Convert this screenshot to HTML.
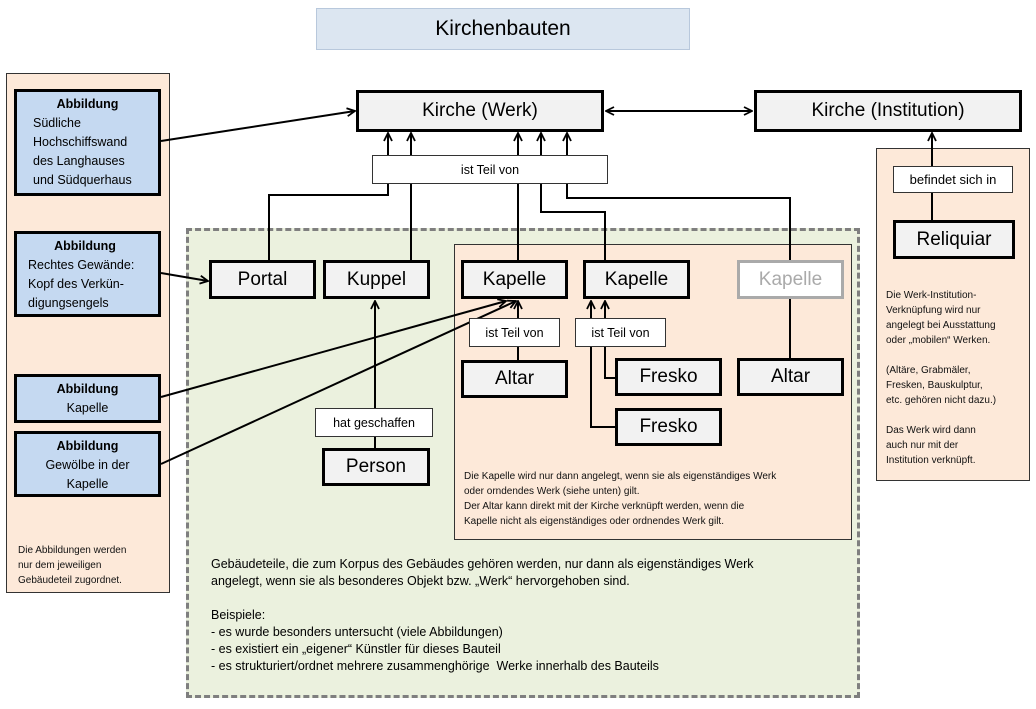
<!DOCTYPE html>
<html><head><meta charset="utf-8"><style>
body{margin:0;width:1036px;height:709px;background:#fff;position:relative;overflow:hidden;font-family:"Liberation Sans",sans-serif;color:#000}
.a{position:absolute;box-sizing:border-box}
.n{position:absolute;box-sizing:border-box;background:#f2f2f2;border:3px solid #000;display:flex;align-items:center;justify-content:center;font-size:19px}
.l{position:absolute;box-sizing:border-box;background:#fff;border:1px solid #333;display:flex;align-items:center;justify-content:center;font-size:12.5px}
.ab{position:absolute;box-sizing:border-box;background:#c5d9f1;border:3px solid #000;font-size:12.5px;line-height:19px;padding:3px 0 0 16px;white-space:nowrap}
.ab b{display:block;text-align:center;margin-left:-16px}
.sm{position:absolute;font-size:10.5px;line-height:15px;color:#111;white-space:nowrap}
svg{position:absolute;left:0;top:0}
</style></head><body>
<div class="a" style="left:316px;top:8px;width:374px;height:42px;background:#dce6f1;border:1px solid #b8c8dc;display:flex;align-items:center;justify-content:center;font-size:21px">Kirchenbauten</div>
<div class="a" style="left:6px;top:73px;width:164px;height:520px;background:#fde9d9;border:1px solid #333"></div>
<div class="a" style="left:876px;top:148px;width:154px;height:333px;background:#fde9d9;border:1px solid #333"></div>
<div class="a" style="left:186px;top:228px;width:674px;height:470px;background:#ebf1de;border:3px dashed #7f7f7f"></div>
<div class="a" style="left:454px;top:244px;width:398px;height:296px;background:#fde9d9;border:1px solid #333"></div>

<svg width="1036" height="709" fill="none" stroke="#000" stroke-width="2">
<defs><marker id="m" viewBox="0 0 10 10" refX="9" refY="5" markerWidth="10" markerHeight="10" orient="auto-start-reverse" markerUnits="userSpaceOnUse"><path d="M1,1 L9,5 L1,9" fill="none" stroke="#000" stroke-width="1.8"/></marker></defs>
<path d="M161,141 L355,111" marker-end="url(#m)"/>
<path d="M161,273 L208,281" marker-end="url(#m)"/>
<path d="M161,397 L506,301" marker-end="url(#m)"/>
<path d="M161,464 L516,301" marker-end="url(#m)"/>
<path d="M606,111 L752,111" marker-start="url(#m)" marker-end="url(#m)"/>
<path d="M269,260 V195 H388 V133" marker-end="url(#m)"/>
<path d="M411,260 V133" marker-end="url(#m)"/>
<path d="M518,260 V133" marker-end="url(#m)"/>
<path d="M605,260 V212 H541 V133" marker-end="url(#m)"/>
<path d="M790,358 V198 H567 V133" marker-end="url(#m)"/>
<path d="M518,360 V301" marker-end="url(#m)"/>
<path d="M615,378 H605 V301" marker-end="url(#m)"/>
<path d="M615,427 H591 V301" marker-end="url(#m)"/>
<path d="M375,448 V301" marker-end="url(#m)"/>
<path d="M932,220 V133" marker-end="url(#m)"/>
</svg>

<div class="ab" style="left:14px;top:89px;width:147px;height:107px"><b>Abbildung</b>Südliche<br>Hochschiffswand<br>des Langhauses<br>und Südquerhaus</div>
<div class="ab" style="left:14px;top:231px;width:147px;height:86px;padding-left:11px"><b>Abbildung</b>Rechtes Gewände:<br>Kopf des Verkün-<br>digungsengels</div>
<div class="ab" style="left:14px;top:374px;width:147px;height:49px;padding-left:0;text-align:center"><b style="margin-left:0">Abbildung</b>Kapelle</div>
<div class="ab" style="left:14px;top:431px;width:147px;height:66px;padding-left:0;text-align:center"><b style="margin-left:0">Abbildung</b>Gewölbe in der<br>Kapelle</div>
<div class="sm" style="left:18px;top:543px;font-size:10px">Die Abbildungen werden<br>nur dem jeweiligen<br>Gebäudeteil zugordnet.</div>

<div class="n" style="left:356px;top:90px;width:248px;height:42px">Kirche (Werk)</div>
<div class="n" style="left:754px;top:90px;width:268px;height:42px">Kirche (Institution)</div>
<div class="l" style="left:372px;top:155px;width:236px;height:29px">ist Teil von</div>

<div class="n" style="left:209px;top:260px;width:107px;height:39px">Portal</div>
<div class="n" style="left:323px;top:260px;width:107px;height:39px">Kuppel</div>
<div class="n" style="left:461px;top:260px;width:107px;height:39px">Kapelle</div>
<div class="n" style="left:583px;top:260px;width:107px;height:39px">Kapelle</div>
<div class="n" style="left:737px;top:260px;width:107px;height:39px;background:#fff;border-color:#aaa;color:#aaa">Kapelle</div>
<div class="l" style="left:469px;top:318px;width:91px;height:29px">ist Teil von</div>
<div class="l" style="left:575px;top:318px;width:91px;height:29px">ist Teil von</div>
<div class="n" style="left:461px;top:360px;width:107px;height:38px">Altar</div>
<div class="n" style="left:615px;top:358px;width:107px;height:38px">Fresko</div>
<div class="n" style="left:615px;top:408px;width:107px;height:38px">Fresko</div>
<div class="n" style="left:737px;top:358px;width:107px;height:38px">Altar</div>
<div class="l" style="left:315px;top:408px;width:118px;height:29px">hat geschaffen</div>
<div class="n" style="left:322px;top:448px;width:108px;height:38px">Person</div>
<div class="sm" style="left:464px;top:469px;font-size:10px">Die Kapelle wird nur dann angelegt, wenn sie als eigenständiges Werk<br>oder orndendes Werk (siehe unten) gilt.<br>Der Altar kann direkt mit der Kirche verknüpft werden, wenn die<br>Kapelle nicht als eigenständiges oder ordnendes Werk gilt.</div>
<div class="a" style="left:211px;top:556px;width:640px;font-size:12.5px;line-height:17px;white-space:nowrap">Gebäudeteile, die zum Korpus des Gebäudes gehören werden, nur dann als eigenständiges Werk<br>angelegt, wenn sie als besonderes Objekt bzw. „Werk“ hervorgehoben sind.<br><br>Beispiele:<br>- es wurde besonders untersucht (viele Abbildungen)<br>- es existiert ein „eigener“ Künstler für dieses Bauteil<br>- es strukturiert/ordnet mehrere zusammenghörige&nbsp; Werke innerhalb des Bauteils</div>

<div class="l" style="left:893px;top:166px;width:120px;height:27px;font-size:13px">befindet sich in</div>
<div class="n" style="left:893px;top:220px;width:122px;height:39px">Reliquiar</div>
<div class="sm" style="left:886px;top:288px;font-size:10px">Die Werk-Institution-<br>Verknüpfung wird nur<br>angelegt bei Ausstattung<br>oder „mobilen“ Werken.<br><br>(Altäre, Grabmäler,<br>Fresken, Bauskulptur,<br>etc. gehören nicht dazu.)<br><br>Das Werk wird dann<br>auch nur mit der<br>Institution verknüpft.</div>
</body></html>
